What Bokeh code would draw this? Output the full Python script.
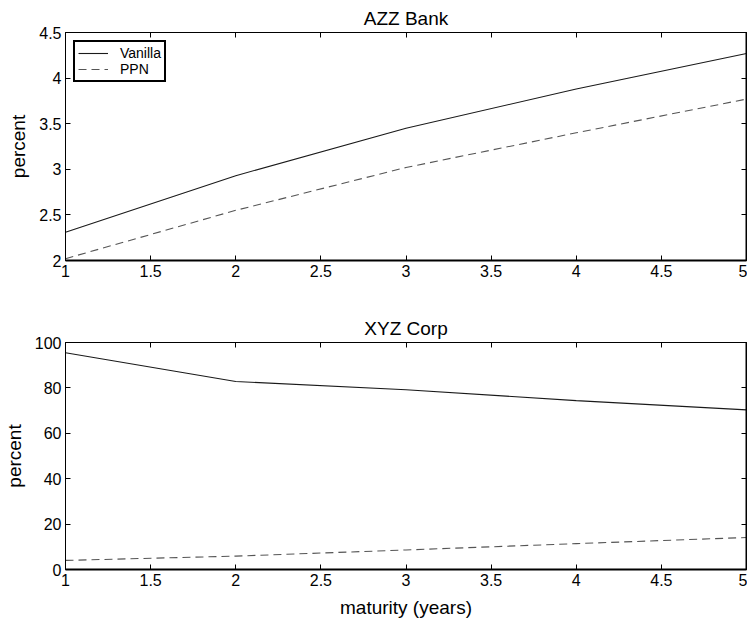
from bokeh.plotting import figure
from bokeh.layouts import column
from bokeh.models import LinearAxis, FixedTicker, CustomJSTickFormatter, Range1d, Legend, LegendItem
from bokeh.embed import file_html
from bokeh.resources import INLINE

maturity = [1, 2, 3, 4, 5]
azz_vanilla = [2.31, 2.93, 3.45, 3.88, 4.27]
azz_ppn = [2.02, 2.55, 3.02, 3.40, 3.77]
xyz_vanilla = [95.5, 82.8, 79.2, 74.4, 70.3]
xyz_ppn = [4.0, 5.9, 8.6, 11.4, 14.1]

x_ticks = [1, 1.5, 2, 2.5, 3, 3.5, 4, 4.5, 5]
azz_ticks = [2, 2.5, 3, 3.5, 4, 4.5]
xyz_ticks = [0, 20, 40, 60, 80, 100]

FONT = "Liberation Sans"
fmt = CustomJSTickFormatter(code="return tick.toString();")


def style_axis(ax, ticks, labels=True, width=1):
    ax.ticker = FixedTicker(ticks=ticks)
    ax.major_tick_in = 5
    ax.major_tick_out = 0
    ax.minor_tick_line_color = None
    ax.axis_line_color = "black"
    ax.axis_line_width = width
    ax.major_tick_line_color = "black"
    ax.major_label_standoff = 4
    if labels:
        ax.formatter = fmt
        ax.major_label_text_font = FONT
        ax.major_label_text_font_size = "16px"
        ax.major_label_text_color = "black"
    else:
        ax.major_label_text_font_size = "0px"
        ax.major_label_text_alpha = 0
        ax.major_label_standoff = 0
    ax.axis_label_text_font = FONT
    ax.axis_label_text_font_size = "19px"
    ax.axis_label_text_font_style = "normal"
    ax.axis_label_text_color = "black"
    ax.axis_label_standoff = 8


def make_panel(title, y0, y1, yticks, vanilla, ppn, height, top, bottom, xlabel=None, legend=False):
    p = figure(width=747, height=height, output_backend="svg", toolbar_location=None,
               x_range=Range1d(1, 5), y_range=Range1d(y0, y1),
               min_border_left=63, min_border_right=1, min_border_top=top, min_border_bottom=bottom,
               x_axis_location=None, y_axis_location=None)
    p.grid.visible = False
    p.outline_line_color = "black"
    p.outline_line_width = 1
    p.background_fill_color = "white"
    p.border_fill_color = "white"
    p.title.text = title
    p.title.align = "center"
    p.title.text_font = FONT
    p.title.text_font_size = "19px"
    p.title.text_font_style = "normal"
    p.title.text_color = "black"
    p.title.standoff = 8

    bx = LinearAxis(axis_label=xlabel)
    style_axis(bx, x_ticks, width=2)
    p.add_layout(bx, "below")
    ly = LinearAxis(axis_label="percent")
    style_axis(ly, yticks)
    ly.axis_label_standoff = 7
    p.add_layout(ly, "left")
    tx = LinearAxis()
    style_axis(tx, x_ticks, labels=False)
    p.add_layout(tx, "above")
    ry = LinearAxis()
    style_axis(ry, yticks, labels=False, width=2)
    p.add_layout(ry, "right")

    r1 = p.line(maturity, vanilla, line_color="#1a1a1a", line_width=1.1)
    r2 = p.line(maturity, ppn, line_color="#555555", line_width=1.1, line_dash="8 5")
    if legend:
        leg = Legend(items=[LegendItem(label="Vanilla", renderers=[r1]),
                            LegendItem(label="PPN", renderers=[r2])],
                     location="top_left")
        leg.margin = 8
        leg.padding = 3
        leg.spacing = 0
        leg.glyph_width = 30
        leg.glyph_height = 14
        leg.label_height = 14
        leg.label_standoff = 12
        leg.label_text_font = FONT
        leg.label_text_font_size = "14px"
        leg.label_text_color = "black"
        leg.border_line_color = "black"
        leg.border_line_width = 2
        leg.border_line_alpha = 1
        leg.background_fill_alpha = 1
        p.add_layout(leg)
    return p


p1 = make_panel("AZZ Bank", 2, 4.5, azz_ticks, azz_vanilla, azz_ppn, 300, 32, 40, legend=True)
p2 = make_panel("XYZ Corp", 0, 100, xyz_ticks, xyz_vanilla, xyz_ppn, 326, 42, 57, xlabel="maturity (years)")

layout = column(p1, p2, spacing=0)
open("out.html", "w").write(file_html(layout, INLINE))
